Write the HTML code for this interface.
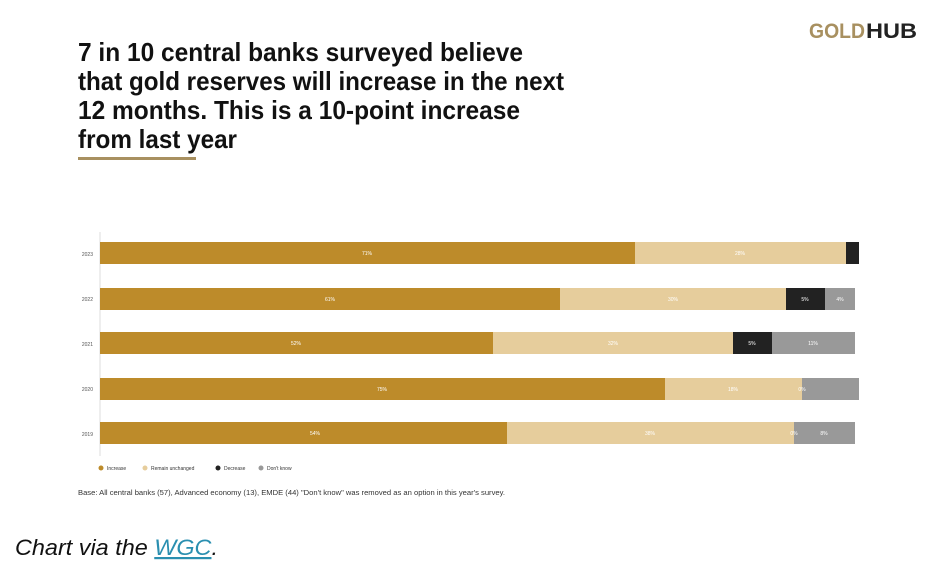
<!DOCTYPE html>
<html><head><meta charset="utf-8"><style>
html,body{margin:0;padding:0;background:#fff;}
body{width:937px;height:578px;position:relative;overflow:hidden;font-family:"Liberation Sans",sans-serif;}
</style></head><body>
<svg width="937" height="578" xmlns="http://www.w3.org/2000/svg" style="position:absolute;left:0;top:0">
<rect width="937" height="520" fill="#fff"/>
<text x="809" y="38" font-size="21" font-weight="bold" fill="#a89060" textLength="56" lengthAdjust="spacingAndGlyphs">GOLD</text>
<text x="866" y="38" font-size="21" font-weight="bold" fill="#222" textLength="51" lengthAdjust="spacingAndGlyphs">HUB</text>
<g font-size="26" font-weight="bold" fill="#111">
<text x="78" y="61" textLength="445" lengthAdjust="spacingAndGlyphs">7 in 10 central banks surveyed believe</text>
<text x="78" y="90" textLength="486" lengthAdjust="spacingAndGlyphs">that gold reserves will increase in the next</text>
<text x="78" y="119" textLength="442" lengthAdjust="spacingAndGlyphs">12 months. This is a 10-point increase</text>
<text x="78" y="148" textLength="159" lengthAdjust="spacingAndGlyphs">from last year</text>
</g>
<rect x="78" y="157" width="118" height="3" fill="#a89060"/>
<line x1="100" y1="232" x2="100" y2="456" stroke="#ddd" stroke-width="1"/>
<g font-size="5" fill="#555" text-anchor="end">
<text x="93" y="256">2023</text><text x="93" y="301">2022</text><text x="93" y="346">2021</text><text x="93" y="391">2020</text><text x="93" y="436">2019</text>
</g>
<g>
<rect x="100" y="242" width="535" height="22" fill="#bd8b2a"/><rect x="635" y="242" width="211" height="22" fill="#e6cd9c"/><rect x="846" y="242" width="13" height="22" fill="#222"/>
<rect x="100" y="288" width="460" height="22" fill="#bd8b2a"/><rect x="560" y="288" width="226" height="22" fill="#e6cd9c"/><rect x="786" y="288" width="39" height="22" fill="#222"/><rect x="825" y="288" width="30" height="22" fill="#999"/>
<rect x="100" y="332" width="393" height="22" fill="#bd8b2a"/><rect x="493" y="332" width="240" height="22" fill="#e6cd9c"/><rect x="733" y="332" width="39" height="22" fill="#222"/><rect x="772" y="332" width="83" height="22" fill="#999"/>
<rect x="100" y="378" width="565" height="22" fill="#bd8b2a"/><rect x="665" y="378" width="137" height="22" fill="#e6cd9c"/><rect x="802" y="378" width="57" height="22" fill="#999"/>
<rect x="100" y="422" width="407" height="22" fill="#bd8b2a"/><rect x="507" y="422" width="287" height="22" fill="#e6cd9c"/><rect x="794" y="422" width="61" height="22" fill="#999"/>
</g>
<g font-size="5" fill="#fff" text-anchor="middle">
<text x="367" y="255">71%</text><text x="740" y="255">28%</text>
<text x="330" y="301">61%</text><text x="673" y="301">30%</text><text x="805" y="301">5%</text><text x="840" y="301">4%</text>
<text x="296" y="345">52%</text><text x="613" y="345">32%</text><text x="752" y="345">5%</text><text x="813" y="345">11%</text>
<text x="382" y="391">75%</text><text x="733" y="391">18%</text><text x="802" y="391">0%</text>
<text x="315" y="435">54%</text><text x="650" y="435">38%</text><text x="794" y="435">0%</text><text x="824" y="435">8%</text>
</g>
<g font-size="5" fill="#333">
<circle cx="101" cy="468" r="2.5" fill="#bd8b2a"/><text x="107" y="470">Increase</text>
<circle cx="145" cy="468" r="2.5" fill="#e6cd9c"/><text x="151" y="470">Remain unchanged</text>
<circle cx="218" cy="468" r="2.5" fill="#222"/><text x="224" y="470">Decrease</text>
<circle cx="261" cy="468" r="2.5" fill="#999"/><text x="267" y="470">Don't know</text>
</g>
<text x="78" y="495" font-size="7" fill="#333" textLength="427" lengthAdjust="spacingAndGlyphs">Base: All central banks (57), Advanced economy (13), EMDE (44) "Don't know" was removed as an option in this year's survey.</text>
<text x="15" y="555" font-size="22" font-style="italic" fill="#111" textLength="203" lengthAdjust="spacingAndGlyphs">Chart via the <tspan fill="#2a8fb0" text-decoration="underline">WGC</tspan>.</text>
</svg>
</body></html>
